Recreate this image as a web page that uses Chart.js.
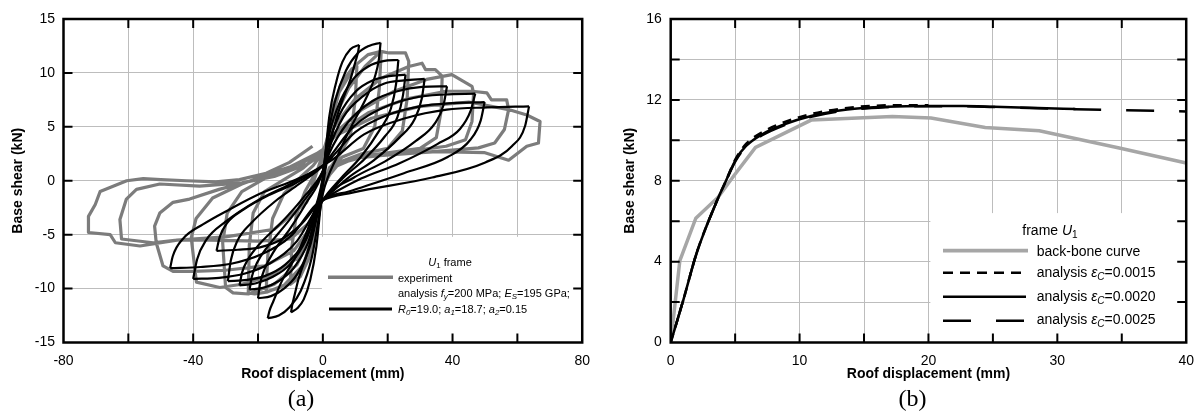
<!DOCTYPE html>
<html><head><meta charset="utf-8">
<script src="https://cdn.jsdelivr.net/npm/chart.js@4.4.0/dist/chart.umd.min.js"></script>
<style>
html,body{margin:0;padding:0;background:#fff;}
#wrap{position:relative;width:1204px;height:412px;overflow:hidden;font-family:"Liberation Sans",Arial,sans-serif;}
canvas{position:absolute;top:0;}
#ca{left:0;}
#cb{left:600px;}
.t{position:absolute;white-space:nowrap;color:#000;line-height:1;}
.la{font-size:11px;}
.lb{font-size:14px;}
.cap{font-family:"Liberation Serif","Times New Roman",serif;font-size:24px;}
sub{font-size:0.72em;vertical-align:-0.28em;line-height:0;}
</style></head>
<body>
<div id="wrap">
<canvas id="ca" width="600" height="412"></canvas>
<canvas id="cb" width="604" height="412"></canvas>

<div class="t la" style="left:450px;top:256.5px;transform:translateX(-50%)"><i>U</i><sub>1</sub> frame</div>
<div class="t la" style="left:398px;top:273px">experiment</div>
<div class="t la" style="left:398px;top:288.3px">analysis <i>f</i><sub><i>y</i></sub>=200 MPa; <i>E</i><sub><i>S</i></sub>=195 GPa;</div>
<div class="t la" style="left:398px;top:304px"><i>R</i><sub><i>0</i></sub>=19.0; <i>a</i><sub><i>1</i></sub>=18.7; <i>a</i><sub><i>2</i></sub>=0.15</div>

<div class="t lb" style="left:1050px;top:223px;transform:translateX(-50%)">frame <i>U</i><sub>1</sub></div>
<div class="t lb" style="left:1036.7px;top:244px">back-bone curve</div>
<div class="t lb" style="left:1036.7px;top:265px">analysis <i>ε</i><sub><i>C</i></sub>=0.0015</div>
<div class="t lb" style="left:1036.7px;top:289px">analysis <i>ε</i><sub><i>C</i></sub>=0.0020</div>
<div class="t lb" style="left:1036.7px;top:312.3px">analysis <i>ε</i><sub><i>C</i></sub>=0.0025</div>

<div class="t cap" style="left:301px;top:386px;transform:translateX(-50%)">(a)</div>
<div class="t cap" style="left:912.5px;top:386px;transform:translateX(-50%)">(b)</div>
</div>

<script>
// ---------- Panel (a): hysteresis loops (displacement mm, base shear kN) ----------
const experimentLoop = [
[0,0],[1.2,3.5],[3,6.8],[6,9.2],[9,10.4],[10.5,10.6],
[10,7.5],[8.5,4.2],[5.5,2.6],[2,1.1],[0,-0.3],
[-1.5,-3.5],[-4,-7],[-7,-8.9],[-10,-9.6],
[-9.6,-6.2],[-8.2,-3.2],[-5.5,-1],[-2.5,0.6],[0,1.8],
[2,4.8],[5,8.2],[10,10.7],[14,11.7],[18,12],
[17.4,8.5],[16,5],[12.5,3],[6,2.2],[2,1.2],[0,-0.8],
[-2,-4.2],[-5,-7.6],[-10,-9.4],[-14,-10],[-17.5,-10.3],
[-17,-7],[-15.5,-3.5],[-12,-1.2],[-7,0.3],[-3,1.4],[0,2.6],
[3,5.5],[8,8.6],[13,10.6],[17.9,12],[20.4,11.85],[25.5,11.85],[26.5,11.07],
[26,7.6],[24.5,4.6],[20,3],[12,2.5],[4,1.6],[0,-0.6],
[-2.5,-4.4],[-6,-7.8],[-12,-9.7],[-17,-10.3],[-21,-10.5],[-23,-10.4],
[-22.7,-6],[-21.5,-3],[-18,-1],[-12,0.1],[-6,1.2],[0,2.8],
[3,4.8],[10,7.6],[18,9.5],[26.5,10.6],[30.6,10.9],[31.7,10.3],[34.7,10.3],[36.8,9.7],
[36.5,6.5],[35,4],[30,3],[20,2.6],[10,2.2],[3,1.4],[0,-0.4],
[-3,-4.5],[-8,-7.8],[-15,-9.6],[-23,-10.5],[-27.7,-10.4],[-30,-9.9],
[-30.9,-5.75],[-29.5,-3],[-25,-1],[-18,0.2],[-10,1.3],[0,2.8],
[4,4.5],[12,6.6],[22,8.3],[32,9.4],[39.8,9.84],[46,8.76],[46.5,8.15],
[46,5.5],[44,3.8],[38,3.2],[28,2.8],[15,2.4],[5,1.6],[0,-0.2],
[-3,-4.2],[-8,-7.2],[-16,-8.8],[-25,-9.6],[-31.8,-9.9],[-39,-9.4],
[-40.6,-5.3],[-39.1,-3.5],[-34,-1.6],[-25,-0.3],[-15,0.8],[-6,1.7],[0,2.8],
[4,4.3],[14,6.3],[26,7.6],[38,8.3],[46,8.3],[50.6,8.15],[52,7.5],[56.7,7.5],[57.3,6.6],
[56,4.75],[53,3.5],[48,3.05],[38,2.8],[25,2.5],[12,2.2],[3,1.4],[0,-0.3],
[-3,-4],[-9,-6.5],[-18,-7.9],[-30,-8.3],[-40,-8.4],[-46.2,-8.4],[-49.3,-7.9],[-51.4,-5.75],
[-51.9,-4.2],[-50.3,-3],[-46.2,-2],[-41.1,-1.7],[-32,-0.8],[-22,0],[-12,0.9],[-4,2.1],[0,2.9],
[4,4.2],[15,5.8],[30,6.9],[45,7.3],[57.3,6.6],[62.9,6.1],[67,5.5],
[66.5,3.5],[62.9,3.2],[57.3,1.9],[50,2.6],[35,2.7],[20,2.4],[10,2.1],[3,1.2],[0,-0.5],
[-3,-3.6],[-10,-5.4],[-20,-5.6],[-35,-5.5],[-45,-5.5],[-52.4,-5.75],[-62.1,-5.4],
[-62.6,-3.6],[-60.6,-1.7],[-57.5,-0.8],[-50.3,-0.3],[-38,-0.5],[-25,-0.2],[-15,0.4],[-5,1.5],[0,2.5],
[-5,-2],[-15,-4.5],[-30,-5.2],[-45,-5.5],[-56.4,-6.05],[-64,-5.75],[-65.6,-5],[-72.3,-4.8],
[-72.3,-3.3],[-70.2,-2.2],[-68.7,-1],[-60.5,0],[-55.4,0.2],[-50,0.1],[-42,0],[-33,-0.1],[-25.7,0.1],[-17.5,0.7],[-10.3,1.7],[-3.2,3.2]
];

// analysis: one branch per half-cycle (peak to peak)
const analysisBranches = [
[[0,0],[2,6],[4,9],[6,11],[8.5,12.2],[11.2,12.6]],
[[11.2,12.6],[10.9,12.0],[10.1,11.1],[8.4,9.3],[5.6,7.1],[2.8,4.2],[0,-0.5],[-0.5,-1.8],[-2.0,-6.1],[-3.9,-9.2],[-5.9,-11.0],[-7.8,-11.8],[-9.8,-12.2]],
[[-9.8,-12.2],[-9.5,-11.6],[-8.8,-10.7],[-7.4,-9.0],[-4.9,-6.8],[-2.5,-4.0],[0,0.3],[0.9,2.8],[3.6,7.2],[7.1,10.2],[10.7,11.8],[14.2,12.5],[17.8,12.8]],
[[17.8,12.8],[17.3,11.3],[16.0,9.6],[13.4,7.7],[8.9,5.1],[4.5,2.3],[0,-1.2],[-0.9,-2.8],[-3.4,-7.1],[-6.8,-10.2],[-10.2,-11.7],[-13.6,-12.5],[-17,-12.75]],
[[-17,-12.75],[-16.5,-12.1],[-15.3,-11.2],[-12.8,-9.4],[-8.5,-7.1],[-4.3,-4.2],[0,0.3],[1.2,3.2],[4.7,6.9],[9.3,9.4],[14.0,10.6],[18.6,11.1],[23.3,11.2]],
[[23.3,11.2],[22.6,9.0],[21.0,6.7],[17.5,4.7],[11.7,2.2],[5.8,0.3],[0,-1.8],[-1.0,-2.4],[-4.0,-6.1],[-8.0,-8.7],[-12.0,-10.0],[-16.0,-10.7],[-20,-10.9]],
[[-20,-10.9],[-19.4,-9.6],[-18.0,-8.2],[-15.0,-6.5],[-10.0,-4.4],[-5.0,-2.0],[0,0.9],[1.3,2.9],[5.1,6.1],[10.2,8.3],[15.3,9.3],[20.4,9.7],[25.5,9.84]],
[[25.5,9.84],[24.7,7.9],[23.0,5.9],[19.1,4.1],[12.8,2.0],[6.4,0.3],[0,-1.8],[-1.1,-2.2],[-4.5,-5.7],[-9.0,-8.1],[-13.6,-9.3],[-18.1,-9.9],[-22.6,-10.1]],
[[-22.6,-10.1],[-21.9,-8.9],[-20.3,-7.6],[-17.0,-6.1],[-11.3,-4.0],[-5.7,-1.8],[0,0.9],[1.6,2.7],[6.3,5.9],[12.6,7.9],[18.8,9.0],[25.1,9.3],[31.4,9.44]],
[[31.4,9.44],[30.5,7.6],[28.3,5.7],[23.6,4.0],[15.7,1.9],[7.9,0.3],[0,-1.8],[-1.3,-2.1],[-5.1,-5.4],[-10.3,-7.8],[-15.4,-8.9],[-20.6,-9.5],[-25.7,-9.7]],
[[-25.7,-9.7],[-24.9,-8.5],[-23.1,-7.3],[-19.3,-5.8],[-12.9,-3.9],[-6.4,-1.7],[0,0.9],[1.9,2.5],[7.7,5.4],[15.3,7.4],[23.0,8.3],[30.6,8.7],[38.3,8.76]],
[[38.3,8.76],[37.2,7.0],[34.5,5.3],[28.7,3.7],[19.2,1.8],[9.6,0.3],[0,-1.8],[-1.5,-2.7],[-5.9,-5.8],[-11.7,-7.8],[-17.6,-8.8],[-23.4,-9.2],[-29.3,-9.3]],
[[-29.3,-9.3],[-28.4,-7.4],[-26.4,-5.6],[-22.0,-3.9],[-14.7,-1.9],[-7.3,-0.3],[0,1.4],[2.4,2.3],[9.4,5.0],[18.8,6.8],[28.2,7.7],[37.6,8.0],[47,8.08]],
[[47,8.08],[45.6,6.5],[42.3,4.8],[35.3,3.4],[23.5,1.6],[11.8,0.2],[0,-1.8],[-1.6,-2.2],[-6.6,-4.0],[-13.1,-5.5],[-19.7,-6.2],[-26.2,-6.4],[-32.8,-6.5]],
[[-32.8,-6.5],[-31.8,-5.2],[-29.5,-3.9],[-24.6,-2.7],[-16.4,-1.3],[-8.2,-0.2],[0,1.4],[2.5,2.1],[10.0,4.5],[20.0,6.1],[29.9,6.9],[39.9,7.2],[49.9,7.3]],
[[49.9,7.3],[48.7,5.6],[45.5,3.8],[38.5,2.2],[25,0.7],[8,-1.0],[0,-1.8],[-2.0,-2.6],[-8.0,-5.6],[-16.0,-7.6],[-24.0,-8.6],[-32.0,-9.0],[-40,-9.1]],
[[-40,-9.1],[-38.8,-7.3],[-36.0,-5.5],[-30.0,-3.8],[-20.0,-1.8],[-10.0,-0.3],[0,1.4],[3.2,2.0],[12.7,4.3],[25.4,5.8],[38.2,6.6],[50.9,6.8],[63.6,6.9]],
[[63.6,6.9],[62.4,5.1],[58.3,3.2],[50.1,1.7],[33.7,0.3],[9.1,-1.1],[0,-1.8],[-2.4,-2.3],[-9.4,-5.0],[-18.8,-6.8],[-28.3,-7.7],[-37.7,-8.0],[-47.1,-8.1]],
[[-47.1,-8.1],[-46.3,-7.0],[-43.2,-5.4],[-37,-4.05],[-28.8,-2.66],[-18.6,-1.1],[-8.4,0.1],[0,1.35],[3,2.2]]
];

// ---------- Panel (b): back-bone and analysis curves ----------
const backboneDisp  = [0,0.71,1.95,3.7,4.9,6.58,10.9,17.2,20.2,24.4,28.6,34.8,40];
const backboneShear = [0,4.05,6.15,7.2,8.25,9.65,11.0,11.18,11.1,10.63,10.47,9.62,8.88];
const ec15Disp  = [0,1,2,3.65,4.27,5.05,5.85,7.1,8.7,10.9,13.7,16.8,20];
const ec15Shear = [0,2.15,4.4,7.1,7.97,9.1,9.82,10.4,10.87,11.3,11.6,11.73,11.74];
const ec20Disp  = [0,1,2,3.65,4.27,5.05,5.85,7.1,8.7,10.9,13.7,16.8,20,22.7,25.1,28.5,31.4];
const ec20Shear = [0,2.15,4.4,7.1,7.97,9.05,9.72,10.3,10.76,11.2,11.52,11.66,11.7,11.7,11.66,11.6,11.55];
const ec25Disp  = [0,1,2,3.65,4.27,5.05,5.85,7.1,8.7,10.9,13.7,16.8,20,22.7,25.1,28.5,31.4,35,40];
const ec25Shear = [0,2.15,4.4,7.1,7.97,9.0,9.68,10.25,10.72,11.16,11.49,11.64,11.69,11.69,11.65,11.59,11.54,11.49,11.43];

// tick label sets
const xTicksA = [-80,-40,0,40,80];
const yTicksA = [-15,-10,-5,0,5,10,15];
const xTicksB = [0,10,20,30,40];
const yTicksB = [0,4,8,12,16];

const FONT = "'Liberation Sans', Arial, sans-serif";
const pairs = arr => arr.map(p => ({x:p[0], y:p[1]}));
const zip = (xs, ys) => xs.map((x,i) => ({x, y:ys[i]}));

function makeFrame(cfg){
  return {
    id: 'frame' + cfg.name,
    afterDatasetsDraw(chart){
      const {ctx, chartArea:a, scales} = chart;
      const xs = scales.x, ys = scales.y;
      ctx.save();
      if (cfg.box){
        const x0 = xs.getPixelForValue(cfg.box[0]), x1 = xs.getPixelForValue(cfg.box[1]);
        const yt = ys.getPixelForValue(cfg.box[3]), yb = ys.getPixelForValue(cfg.box[2]);
        ctx.fillStyle = '#fff';
        ctx.fillRect(x0, yt, x1 - x0, yb - yt);
      }
      (cfg.samples || []).forEach(s => {
        ctx.beginPath();
        ctx.strokeStyle = s.color || '#000';
        ctx.lineWidth = s.width;
        ctx.setLineDash(s.dash || []);
        ctx.lineCap = 'butt';
        ctx.moveTo(s.x0, s.y); ctx.lineTo(s.x1, s.y);
        ctx.stroke();
      });
      ctx.setLineDash([]);
      ctx.strokeStyle = '#000';
      ctx.lineWidth = 2;
      ctx.beginPath();
      xs.ticks.forEach(t => {
        const p = xs.getPixelForValue(t.value);
        if (p < a.left + 2 || p > a.right - 2) return;
        ctx.moveTo(p, a.bottom); ctx.lineTo(p, a.bottom - 9);
        ctx.moveTo(p, a.top); ctx.lineTo(p, a.top + 9);
      });
      ys.ticks.forEach(t => {
        const p = ys.getPixelForValue(t.value);
        if (p < a.top + 2 || p > a.bottom - 2) return;
        ctx.moveTo(a.left, p); ctx.lineTo(a.left + 9, p);
        ctx.moveTo(a.right, p); ctx.lineTo(a.right - 9, p);
      });
      ctx.stroke();
      ctx.lineWidth = 2.5;
      ctx.strokeRect(a.left, a.top, a.right - a.left, a.bottom - a.top);
      ctx.restore();
    }
  };
}

function scaleOpts(min, max, step, labels, title, o){
  return {
    type:'linear', min, max,
    ticks:{stepSize:step, autoSkip:false, maxRotation:0, color:'#000',
      padding:o.tickPad, font:{family:FONT, size:14},
      callback: v => labels.includes(v) ? String(v) : ''},
    grid:{color:'#bdbdbd', lineWidth:1, drawTicks:false},
    border:{display:false},
    title:{display:true, text:title, color:'#000', font:{family:FONT, size:14, weight:'bold'}, padding:o.titlePad},
    afterFit: o.fit
  };
}

Chart.defaults.font.family = FONT;

new Chart(document.getElementById('ca'), {
  type:'scatter',
  data:{datasets:[
    ...analysisBranches.map(b => ({data:pairs(b), showLine:true, borderColor:'#000', borderWidth:2.2,
      pointRadius:0, cubicInterpolationMode:'monotone', fill:false, order:0})),
    {data:pairs(experimentLoop), showLine:true, borderColor:'#7c7c7c', borderWidth:3.2,
      pointRadius:0, tension:0, fill:false, order:1, borderJoinStyle:'round'}
  ]},
  options:{
    responsive:false, animation:false, events:[],
    layout:{padding:{top:19, right:15, left:0, bottom:29}},
    plugins:{legend:{display:false}, tooltip:{enabled:false}},
    scales:{
      x: scaleOpts(-80, 80, 20, xTicksA, 'Roof displacement (mm)', {tickPad:10, titlePad:0, fit:s => { s.height = 40.5; }}),
      y: scaleOpts(-15, 15, 5, yTicksA, 'Base shear (kN)', {tickPad:8.5, titlePad:{top:10, bottom:0}, fit:s => { s.width = 63.5; }})
    }
  },
  plugins:[makeFrame({name:'A', box:[-0.3, 80, -15, -5.2], samples:[
    {x0:328, x1:393, y:277.3, width:3.5, color:'#7c7c7c'},
    {x0:329, x1:392, y:309, width:3, color:'#000'}
  ]})]
});

new Chart(document.getElementById('cb'), {
  type:'scatter',
  data:{datasets:[
    {data:zip(ec15Disp, ec15Shear), showLine:true, borderColor:'#000', borderWidth:2.5, borderDash:[9,7],
      pointRadius:0, cubicInterpolationMode:'monotone', order:0},
    {data:zip(ec20Disp, ec20Shear), showLine:true, borderColor:'#000', borderWidth:2.5,
      pointRadius:0, cubicInterpolationMode:'monotone', order:1},
    {data:zip(ec25Disp, ec25Shear), showLine:true, borderColor:'#000', borderWidth:2.5, borderDash:[28,25], borderDashOffset:37,
      pointRadius:0, cubicInterpolationMode:'monotone', order:2},
    {data:zip(backboneDisp, backboneShear), showLine:true, borderColor:'#a6a6a6', borderWidth:3.5,
      pointRadius:0, tension:0, order:3}
  ]},
  options:{
    responsive:false, animation:false, events:[],
    layout:{padding:{top:19, right:9, left:0, bottom:29}},
    plugins:{legend:{display:false}, tooltip:{enabled:false}},
    scales:{
      x: scaleOpts(0, 40, 5, xTicksB, 'Roof displacement (mm)', {tickPad:10, titlePad:0, fit:s => { s.height = 40.5; }}),
      y: scaleOpts(0, 16, 2, yTicksB, 'Base shear (kN)', {tickPad:9, titlePad:{top:21.6, bottom:0}, fit:s => { s.width = 70.7; }})
    }
  },
  plugins:[makeFrame({name:'B', box:[20.15, 40, 0, 6.4], samples:[
    {x0:343, x1:428, y:250.7, width:3.7, color:'#a6a6a6'},
    {x0:343, x1:425, y:272.7, width:2.5, dash:[10,7]},
    {x0:343, x1:426, y:296.7, width:2.5},
    {x0:343, x1:424, y:320.7, width:2.5, dash:[28,25]}
  ]})]
});
</script>
</body></html>
